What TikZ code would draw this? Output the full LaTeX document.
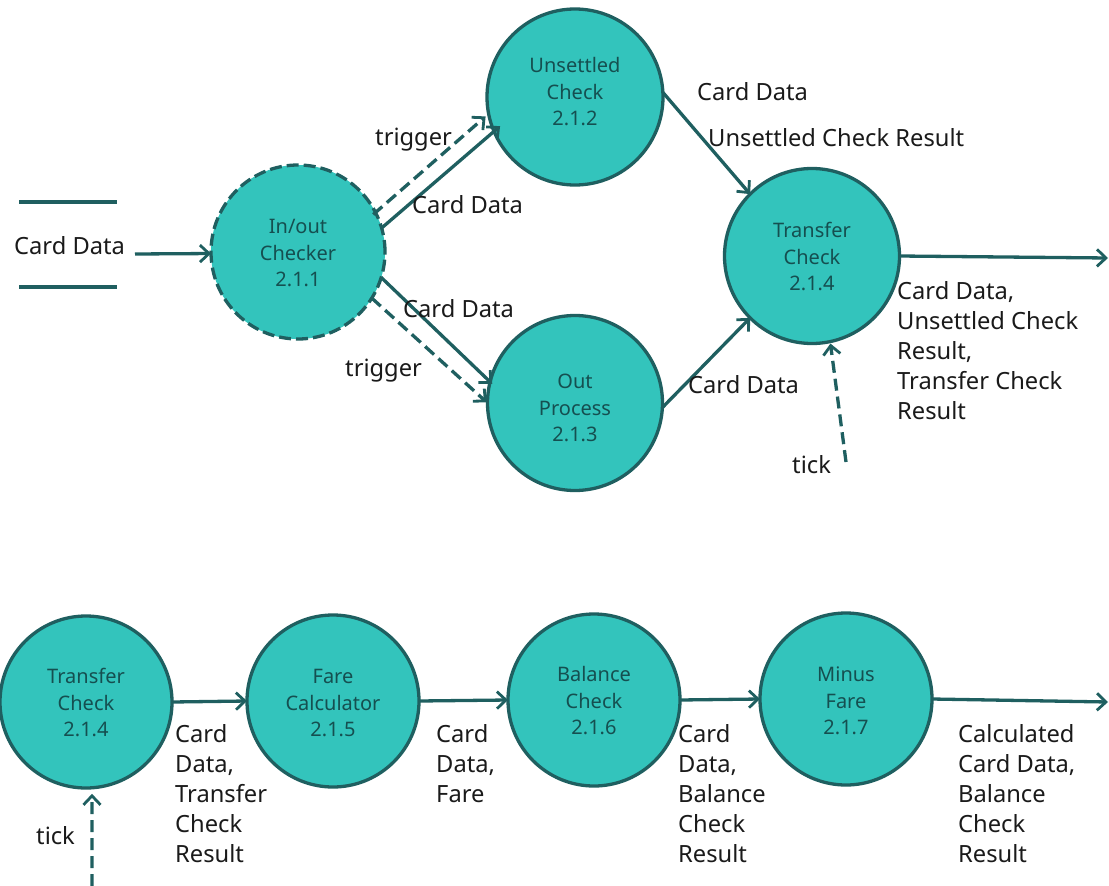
\documentclass[tikz,border=0pt]{standalone}
\usepackage{fontspec}
\setmainfont{Noto Sans}
\usetikzlibrary{arrows.meta}
\definecolor{tealfill}{HTML}{33C4BC}
\definecolor{tealline}{HTML}{1F5F60}
\definecolor{inktxt}{HTML}{1A1A1A}
\definecolor{nodetxt}{HTML}{154F50}
\newcommand{\bubbletext}[4]{\raisebox{#1}[0pt][0pt]{\begin{tabular}{@{}c@{}}#2\\#3\\#4\end{tabular}}}
\tikzset{
  x=1pt,y=-1pt,
  proc/.style={circle,draw=tealline,fill=tealfill,line width=3.3pt,inner sep=0pt,outer sep=0pt,
    text=nodetxt,align=center,font=\fontsize{20}{26.2}\selectfont},
  flow/.style={draw=tealline,line width=3.3pt,-{Straight Barb[length=9pt,width=17pt,line width=2.8pt]}},
  dflow/.style={flow,dash pattern=on 12pt off 6pt},
  lab/.style={text=inktxt,align=left,anchor=west,inner sep=0pt,font=\fontsize{23.7}{30}\selectfont},
}
\begin{document}
\begin{tikzpicture}
\useasboundingbox (0,0) rectangle (1109,886);
% process bubbles
\node[proc,minimum size=174pt,dash pattern=on 12pt off 5pt] (p211) at (298,252) {\bubbletext{-8pt}{In/out}{Checker}{2.1.1}};
\node[proc,minimum size=176pt] (p212) at (575,97) {\bubbletext{-2pt}{Unsettled}{Check}{2.1.2}};
\node[proc,minimum size=175pt] (p213) at (575,403) {\bubbletext{-12pt}{Out}{Process}{2.1.3}};
\node[proc,minimum size=175pt] (p214) at (812,256) {\bubbletext{-8pt}{Transfer}{Check}{2.1.4}};
\node[proc,minimum size=172pt] (q214) at (86,702) {\bubbletext{-8pt}{Transfer}{Check}{2.1.4}};
\node[proc,minimum size=172pt] (q215) at (333,701) {\bubbletext{-9pt}{Fare}{Calculator}{2.1.5}};
\node[proc,minimum size=172pt] (q216) at (594,700) {\bubbletext{-8pt}{Balance}{Check}{2.1.6}};
\node[proc,minimum size=172pt] (q217) at (846,699) {\bubbletext{-9pt}{Minus}{Fare}{2.1.7}};
% free ends
\coordinate (storeL1) at (19,202);
\coordinate (storeR1) at (117,202);
\coordinate (storeL2) at (19,287);
\coordinate (storeR2) at (117,287);
\coordinate (inStart) at (135,254);
\coordinate (outTop) at (1108,258);
\coordinate (tickTop) at (846,462);
\coordinate (outBot) at (1108,702);
\coordinate (tickBot) at (92,886);
% data store
\draw[tealline,line width=3.3pt] (storeL1) -- (storeR1);
\draw[tealline,line width=3.3pt] (storeL2) -- (storeR2);
% connectors
\draw[flow] (inStart) -- (p211.181.3);
\draw[flow,shorten >=-8pt] (p211.16) -- (p212.203);
\draw[dflow,shorten >=4pt,shorten <=-3pt] (p211.27) -- (p212.191);
\draw[flow,shorten >=-3pt] (p211.-17) -- (p213.166);
\draw[dflow,shorten >=1pt] (p211.-32) -- (p213.180);
\draw[flow] (p212.3) -- (p214.135);
\draw[flow] (p213.-3) -- (p214.225);
\draw[flow] (p214.0) -- (outTop);
\draw[dflow,shorten >=2pt] (tickTop) -- (p214.-78);
\draw[flow] (q214.0) -- (q215.180);
\draw[flow] (q215.0) -- (q216.180);
\draw[flow] (q216.0) -- (q217.180);
\draw[flow] (q217.0) -- (outBot);
\draw[dflow,shorten >=6pt] (tickBot) -- (q214.-86);
% labels
\node[lab] (l1) at (14,246) {Card Data};
\node[lab] (l2) at (375,140) {trigger};
\node[lab] (l3) at (412,205) {Card Data};
\node[lab] (l4) at (403,309) {Card Data};
\node[lab] (l5) at (345,371) {trigger};
\node[lab] (l6) at (697,92) {Card Data};
\node[lab] (l7) at (708,138) {Unsettled Check Result};
\node[lab] (l8) at (688,385) {Card Data};
\node[lab,anchor=north west] (l9) at (897,281) {Card Data,\\Unsettled Check\\Result,\\Transfer Check\\Result};
\node[lab] (l10) at (792,465) {tick};
\node[lab,anchor=north west] (l11) at (175,724) {Card\\Data,\\Transfer\\Check\\Result};
\node[lab,anchor=north west] (l12) at (436,724) {Card\\Data,\\Fare};
\node[lab,anchor=north west] (l13) at (678,724) {Card\\Data,\\Balance\\Check\\Result};
\node[lab,anchor=north west] (l14) at (958,724) {Calculated\\Card Data,\\Balance\\Check\\Result};
\node[lab] (l15) at (36,836) {tick};
\end{tikzpicture}
\end{document}
